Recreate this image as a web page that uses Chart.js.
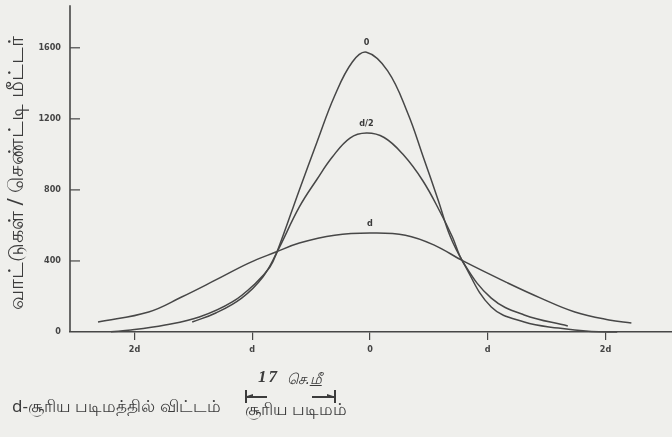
<!DOCTYPE html>
<html>
<head>
<meta charset="utf-8">
<script src="https://cdn.jsdelivr.net/npm/chart.js@4.4.1/dist/chart.umd.min.js"></script>
<style>
  html, body { margin:0; padding:0; background:#efefec; }
  #wrap { position:relative; width:672px; height:437px; overflow:hidden; }
  canvas { position:absolute; left:0; top:0; }
  .t { position:absolute; color:#3c3c3c; white-space:nowrap; font-family:"Noto Sans","DejaVu Sans",sans-serif; }
  .bar { position:absolute; background:#3c3c3c; }
  .ah { position:absolute; width:0; height:0; border-top:2.5px solid transparent; border-bottom:2.5px solid transparent; }
</style>
</head>
<body>
<div id="wrap">
  <canvas id="c" width="672" height="437"></canvas>
  <div class="t" style="left:12px; top:394px; font-size:17px;">d-சூரிய படிமத்தில் விட்டம்</div>
  <div class="t" style="left:258px; top:367px; font-size:17px; font-weight:bold; font-style:italic; font-family:'Liberation Serif',serif; letter-spacing:2px;">17</div>
  <div class="t" style="left:287px; top:368px; font-size:14.5px; font-style:italic;">செ.<span style="text-decoration:underline">மீ</span></div>
  <div class="bar" style="left:245px; top:390px; width:1.5px; height:13px;"></div>
  <div class="bar" style="left:246px; top:396px; width:21px; height:1.5px;"></div>
  <div class="ah" style="left:247px; top:394px; border-right:6px solid #3c3c3c;"></div>
  <div class="bar" style="left:312px; top:396px; width:22px; height:1.5px;"></div>
  <div class="ah" style="left:327px; top:394px; border-left:6px solid #3c3c3c;"></div>
  <div class="bar" style="left:334px; top:390px; width:1.5px; height:13px;"></div>
  <div class="t" style="left:245px; top:397px; font-size:16.5px;">சூரிய படிமம்</div>
</div>
<script>
// ---- data (x in units of d) ----
const xTickValues = [-2, -1, 0, 1, 2];
const xTickLabels = ['2d', 'd', '0', 'd', '2d'];
const yTickValues = [0, 400, 800, 1200, 1600];
const yAxisTop = 1840;   // value where the drawn y-axis line ends
const seriesLabels = ['0', 'd/2', 'd'];

const x0 = [-2.2, -2.03, -1.74, -1.45, -1.17, -0.97, -0.85, -0.79, -0.6, -0.45, -0.3, -0.15, -0.03, 0.15, 0.32, 0.45, 0.58, 0.68, 0.79, 1.03, 1.31, 1.6, 1.88, 2.1];
const y0 = [2, 11, 39, 84, 169, 276, 366, 450, 800, 1070, 1330, 1520, 1575, 1470, 1233, 990, 740, 540, 394, 141, 56, 22, 3, 0];

const xHalf = [-1.51, -1.31, -1.09, -0.91, -0.79, -0.6, -0.45, -0.32, -0.17, -0.03, 0.12, 0.28, 0.45, 0.6, 0.7, 0.79, 1.03, 1.31, 1.68];
const yHalf = [56, 107, 191, 310, 450, 704, 860, 985, 1092, 1120, 1095, 1000, 850, 670, 535, 394, 191, 96, 34];

const xD = [-2.31, -1.88, -1.6, -1.31, -1.03, -0.8, -0.6, -0.3, 0.0, 0.3, 0.55, 0.79, 1.17, 1.45, 1.74, 2.03, 2.22];
const yD = [56, 113, 197, 293, 388, 450, 501, 545, 557, 545, 488, 400, 276, 191, 113, 68, 51];

const ink = '#474747';
const pts = (xs, ys) => xs.map((x, i) => ({x: x, y: ys[i]}));

const bgPlugin = {
  id: 'bg',
  beforeDraw(chart) {
    const ctx = chart.ctx;
    ctx.save(); ctx.fillStyle = '#efefec';
    ctx.fillRect(0, 0, chart.width, chart.height); ctx.restore();
  }
};

const extras = {
  id: 'extras',
  afterDatasetsDraw(chart) {
    const ctx = chart.ctx;
    const ys = chart.scales.y;
    const xs = chart.scales.x;
    ctx.save();
    // y-axis line up to yAxisTop
    ctx.strokeStyle = ink; ctx.lineWidth = 1.6;
    ctx.beginPath(); ctx.moveTo(xs.left, ys.getPixelForValue(0)); ctx.lineTo(xs.left, ys.getPixelForValue(yAxisTop)); ctx.stroke();
    // inward y ticks
    ctx.lineWidth = 1.2;
    yTickValues.forEach(v => {
      if (v === 0) return;
      const py = ys.getPixelForValue(v);
      ctx.beginPath(); ctx.moveTo(xs.left, py); ctx.lineTo(xs.left + 10, py); ctx.stroke();
    });
    // curve labels
    ctx.fillStyle = '#3a3a3a';
    ctx.font = 'bold 9px "DejaVu Sans Condensed", "DejaVu Sans", sans-serif';
    ctx.textAlign = 'center'; ctx.textBaseline = 'bottom';
    chart.data.datasets.forEach(ds => {
      let best = ds.data[0];
      ds.data.forEach(p => { if (p.y > best.y) best = p; });
      ctx.fillText(ds.label, xs.getPixelForValue(best.x), ys.getPixelForValue(best.y) - 5);
    });
    ctx.restore();
  }
};

const lineStyle = { borderColor: ink, borderWidth: 1.5, pointRadius: 0, fill: false, tension: 0.4, clip: false };

new Chart(document.getElementById('c'), {
  type: 'line',
  data: {
    datasets: [
      Object.assign({ label: seriesLabels[0], data: pts(x0, y0) }, lineStyle),
      Object.assign({ label: seriesLabels[1], data: pts(xHalf, yHalf) }, lineStyle),
      Object.assign({ label: seriesLabels[2], data: pts(xD, yD) }, lineStyle)
    ]
  },
  options: {
    responsive: false,
    animation: false,
    layout: { padding: { top: 5, right: 0, left: 0, bottom: 0 } },
    plugins: { legend: { display: false }, tooltip: { enabled: false } },
    scales: {
      x: {
        type: 'linear', min: -2.548, max: 2.565,
        afterBuildTicks: s => { s.ticks = xTickValues.map(v => ({ value: v })); },
        afterFit: s => { s.height = 105; },
        grid: { display: true, drawOnChartArea: false, drawTicks: true, tickLength: 8, color: ink, lineWidth: 1.2 },
        border: { display: true, color: ink, width: 1.6 },
        ticks: {
          padding: 4, color: '#444',
          font: { family: '"DejaVu Sans Condensed", "DejaVu Sans", sans-serif', size: 9, weight: 'bold' },
          callback: (v) => { const i = xTickValues.indexOf(v); return i >= 0 ? xTickLabels[i] : ''; },
          maxRotation: 0, autoSkip: false
        }
      },
      y: {
        type: 'linear', min: 0, max: 1788,
        afterBuildTicks: s => { s.ticks = yTickValues.map(v => ({ value: v })); },
        afterFit: s => { s.width = 70; },
        grid: { display: false, drawTicks: false },
        border: { display: false },
        ticks: {
          padding: 9, color: '#444',
          font: { family: '"DejaVu Sans Condensed", "DejaVu Sans", sans-serif', size: 9, weight: 'bold' },
          callback: (v) => String(v)
        },
        title: {
          display: true,
          text: 'வாட்டுகள் / செண்ட்டி மீட்டர்',
          color: '#3c3c3c',
          font: { family: '"Noto Sans", "DejaVu Sans", sans-serif', size: 21 },
          padding: { top: 4, bottom: 0 }
        }
      }
    }
  },
  plugins: [bgPlugin, extras]
});
</script>
</body>
</html>
